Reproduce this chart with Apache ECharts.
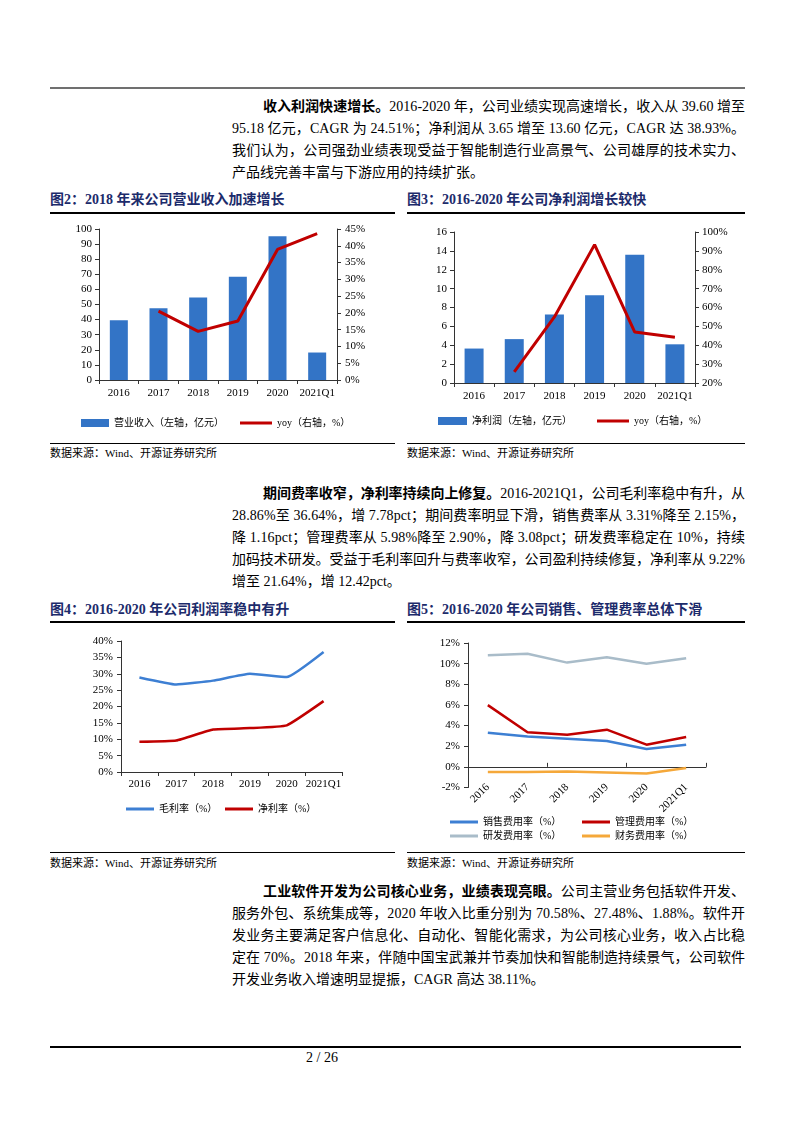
<!DOCTYPE html>
<html><head><meta charset="utf-8">
<script src="https://cdn.jsdelivr.net/npm/echarts@6/dist/echarts.min.js"></script>
<style>
html,body{margin:0;padding:0;background:#fff;}
#page{position:relative;width:793px;height:1122px;overflow:hidden;font-family:"Liberation Serif","Noto Sans CJK SC",serif;color:#000;}
.ln{position:absolute;font-size:14px;line-height:22px;height:22px;white-space:nowrap;}
.ln b{font-weight:bold;}
.ttl{position:absolute;font-size:14px;font-weight:bold;color:#1c2b6b;white-space:nowrap;line-height:18px;}
.src{position:absolute;font-size:11px;white-space:nowrap;line-height:14px;}
.hr{position:absolute;background:#000;}
.chart{position:absolute;width:345px;height:225px;}
</style></head>
<body>
<div id="page">
  <div class="hr" style="left:50px;top:87px;width:695px;height:2px;background:#707070;"></div>

  <div class="ln j" style="left:263px;top:96px;width:482px;"><span><b>收入利润快速增长。</b>2016-2020 年，公司业绩实现高速增长，收入从 39.60 增至</span></div>
  <div class="ln j" style="left:232px;top:118px;width:513px;"><span>95.18 亿元，CAGR 为 24.51%；净利润从 3.65 增至 13.60 亿元，CAGR 达 38.93%。</span></div>
  <div class="ln j" style="left:232px;top:140px;width:513px;"><span>我们认为，公司强劲业绩表现受益于智能制造行业高景气、公司雄厚的技术实力、</span></div>
  <div class="ln" style="left:232px;top:162px;"><span>产品线完善丰富与下游应用的持续扩张。</span></div>

  <div class="ttl" style="left:50px;top:191px;">图2：2018 年来公司营业收入加速增长</div>
  <div class="hr" style="left:50px;top:212px;width:345px;height:1.5px;"></div>
  <div class="ttl" style="left:407px;top:191px;">图3：2016-2020 年公司净利润增长较快</div>
  <div class="hr" style="left:407px;top:212px;width:338px;height:1.5px;"></div>
  <div id="c2" class="chart" style="left:50px;top:215px;"></div>
  <div id="c3" class="chart" style="left:407px;top:215px;"></div>
  <div class="hr" style="left:50px;top:443px;width:345px;height:1px;"></div>
  <div class="hr" style="left:407px;top:443px;width:338px;height:1px;"></div>
  <div class="src" style="left:50px;top:446px;">数据来源：Wind、开源证券研究所</div>
  <div class="src" style="left:407px;top:446px;">数据来源：Wind、开源证券研究所</div>

  <div class="ln j" style="left:263px;top:483px;width:482px;"><span><b>期间费率收窄，净利率持续向上修复。</b>2016-2021Q1，公司毛利率稳中有升，从</span></div>
  <div class="ln j" style="left:232px;top:505px;width:513px;"><span>28.86%至 36.64%，增 7.78pct；期间费率明显下滑，销售费率从 3.31%降至 2.15%，</span></div>
  <div class="ln j" style="left:232px;top:527px;width:513px;"><span>降 1.16pct；管理费率从 5.98%降至 2.90%，降 3.08pct；研发费率稳定在 10%，持续</span></div>
  <div class="ln j" style="left:232px;top:549px;width:513px;"><span>加码技术研发。受益于毛利率回升与费率收窄，公司盈利持续修复，净利率从 9.22%</span></div>
  <div class="ln" style="left:232px;top:571px;"><span>增至 21.64%，增 12.42pct。</span></div>

  <div class="ttl" style="left:50px;top:601px;">图4：2016-2020 年公司利润率稳中有升</div>
  <div class="hr" style="left:50px;top:621px;width:345px;height:1.5px;"></div>
  <div class="ttl" style="left:407px;top:601px;">图5：2016-2020 年公司销售、管理费率总体下滑</div>
  <div class="hr" style="left:407px;top:621px;width:338px;height:1.5px;"></div>
  <div id="c4" class="chart" style="left:50px;top:625px;"></div>
  <div id="c5" class="chart" style="left:407px;top:625px;"></div>
  <div class="hr" style="left:50px;top:852px;width:345px;height:1px;"></div>
  <div class="hr" style="left:407px;top:852px;width:338px;height:1px;"></div>
  <div class="src" style="left:50px;top:856px;">数据来源：Wind、开源证券研究所</div>
  <div class="src" style="left:407px;top:856px;">数据来源：Wind、开源证券研究所</div>

  <div class="ln j" style="left:263px;top:881px;width:482px;"><span><b>工业软件开发为公司核心业务，业绩表现亮眼。</b>公司主营业务包括软件开发、</span></div>
  <div class="ln j" style="left:232px;top:903px;width:513px;"><span>服务外包、系统集成等，2020 年收入比重分别为 70.58%、27.48%、1.88%。软件开</span></div>
  <div class="ln j" style="left:232px;top:925px;width:513px;"><span>发业务主要满足客户信息化、自动化、智能化需求，为公司核心业务，收入占比稳</span></div>
  <div class="ln j" style="left:232px;top:947px;width:513px;"><span>定在 70%。2018 年来，伴随中国宝武兼并节奏加快和智能制造持续景气，公司软件</span></div>
  <div class="ln" style="left:232px;top:969px;"><span>开发业务收入增速明显提振，CAGR 高达 38.11%。</span></div>

  <div class="hr" style="left:50px;top:1046px;width:691px;height:1.5px;"></div>
  <div class="ln" style="left:306px;top:1047px;font-size:14px;">2 / 26</div>
</div>
<script>
// ---------- data ----------
const categories = ['2016', '2017', '2018', '2019', '2020', '2021Q1'];
const revenue = [39.60, 47.5, 54.6, 68.3, 95.18, 18.2];
const revenueYoy = [null, 20.5, 14.5, 17.6, 38.9, 43.6];
const netProfit = [3.65, 4.65, 7.25, 9.3, 13.60, 4.1];
const netProfitYoy = [null, 25.9, 55.0, 93.3, 47.0, 44.2];
const grossMargin = [28.86, 26.7, 27.9, 30.0, 29.0, 36.64];
const netMargin = [9.22, 9.6, 13.0, 13.4, 14.25, 21.64];
const salesRate = [3.31, 2.93, 2.73, 2.5, 1.73, 2.15];
const mgmtRate = [5.98, 3.35, 3.12, 3.6, 2.15, 2.90];
const rdRate = [10.82, 10.95, 10.1, 10.62, 9.98, 10.53];
const finRate = [-0.5, -0.5, -0.45, -0.55, -0.65, -0.1];

// ---------- justify text lines ----------
document.querySelectorAll('.ln.j').forEach(el => {
  const target = parseFloat(el.style.width);
  const span = el.firstElementChild;
  const w = span.getBoundingClientRect().width;
  const n = [...span.textContent].length;
  if (n > 1) span.style.letterSpacing = ((target - w) / (n - 1)) + 'px';
});

const FONT = '"Liberation Serif","Noto Sans CJK SC",serif';
const AX = '#333';
const BLUE_BAR = '#3374c6';
const RED = '#c00000';
const lbl = (extra) => Object.assign({ color: '#000', fontSize: 11, fontFamily: FONT }, extra || {});
const legendText = { color: '#000', fontSize: 10, fontFamily: FONT };
function catAxis(extra) {
  return Object.assign({
    type: 'category', data: categories, boundaryGap: true,
    axisLine: { show: true, lineStyle: { color: AX, width: 1 } },
    axisTick: { show: true, length: 4, lineStyle: { color: AX } },
    axisLabel: lbl({ margin: 8, interval: 0 }),
    splitLine: { show: false }
  }, extra || {});
}
function valAxis(min, max, interval, fmt, extra) {
  return Object.assign({
    type: 'value', min: min, max: max, interval: interval,
    axisLine: { show: true, lineStyle: { color: AX, width: 1 } },
    axisTick: { show: true, length: 4, lineStyle: { color: AX } },
    axisLabel: lbl({ margin: 7, formatter: fmt }),
    splitLine: { show: false }
  }, extra || {});
}
function legendItem(name, left, top, w, h) {
  return { data: [{ name: name, icon: 'rect' }], left: left, top: top, padding: 0,
    itemWidth: w, itemHeight: h, textStyle: legendText, selectedMode: false };
}

// ---------- chart 2 ----------
const c2 = echarts.init(document.getElementById('c2'));
c2.setOption({
  animation: false,
  grid: { left: 49, top: 14, width: 238, height: 151 },
  legend: [
    legendItem('营业收入（左轴，亿元）', 31, 203, 28, 8),
    legendItem('yoy（右轴，%）', 190, 203, 32, 3)
  ],
  xAxis: catAxis(),
  yAxis: [
    valAxis(0, 100, 10, '{value}'),
    valAxis(0, 45, 5, '{value}%', { position: 'right', axisLabel: lbl({ margin: 8, formatter: '{value}%' }) })
  ],
  series: [
    { name: '营业收入（左轴，亿元）', type: 'bar', data: revenue, barWidth: 18, itemStyle: { color: BLUE_BAR } },
    { name: 'yoy（右轴，%）', type: 'line', yAxisIndex: 1, data: revenueYoy, symbol: 'none',
      lineStyle: { color: RED, width: 3 }, itemStyle: { color: RED }, z: 5 }
  ]
});

// ---------- chart 3 ----------
const c3 = echarts.init(document.getElementById('c3'));
c3.setOption({
  animation: false,
  grid: { left: 47, top: 17, width: 241, height: 151 },
  legend: [
    legendItem('净利润（左轴，亿元）', 31, 201, 29, 8),
    legendItem('yoy（右轴，%）', 190, 201, 32, 3)
  ],
  xAxis: catAxis(),
  yAxis: [
    valAxis(0, 16, 2, '{value}'),
    valAxis(20, 100, 10, '{value}%', { position: 'right' })
  ],
  series: [
    { name: '净利润（左轴，亿元）', type: 'bar', data: netProfit, barWidth: 19, itemStyle: { color: BLUE_BAR } },
    { name: 'yoy（右轴，%）', type: 'line', yAxisIndex: 1, data: netProfitYoy, symbol: 'none',
      lineStyle: { color: RED, width: 3 }, itemStyle: { color: RED }, z: 5 }
  ]
});

// ---------- chart 4 ----------
const BLUE_LINE = '#3d7fd3';
const c4 = echarts.init(document.getElementById('c4'));
c4.setOption({
  animation: false,
  grid: { left: 71, top: 16, width: 221, height: 131 },
  legend: [
    legendItem('毛利率（%）', 76, 179, 28, 3),
    legendItem('净利率（%）', 175, 179, 28, 3)
  ],
  xAxis: catAxis({ axisLabel: lbl({ margin: 7, interval: 0 }) }),
  yAxis: valAxis(0, 40, 5, '{value}%', { axisLabel: lbl({ margin: 8, formatter: '{value}%' }) }),
  series: [
    { name: '毛利率（%）', type: 'line', data: grossMargin, symbol: 'none', smooth: 0.12,
      lineStyle: { color: BLUE_LINE, width: 2.5 }, itemStyle: { color: BLUE_LINE } },
    { name: '净利率（%）', type: 'line', data: netMargin, symbol: 'none', smooth: 0.12,
      lineStyle: { color: RED, width: 2.5 }, itemStyle: { color: RED } }
  ]
});

// ---------- chart 5 ----------
const GREY = '#a9bcc9';
const ORANGE = '#f5a83a';
const c5 = echarts.init(document.getElementById('c5'));
c5.setOption({
  animation: false,
  grid: { left: 61, top: 18, width: 238, height: 144.5 },
  legend: [
    legendItem('销售费用率（%）', 43, 192, 28, 3),
    legendItem('管理费用率（%）', 175, 192, 28, 3),
    legendItem('研发费用率（%）', 43, 206, 28, 3),
    legendItem('财务费用率（%）', 175, 206, 28, 3)
  ],
  xAxis: [
    catAxis({ position: 'bottom', axisLine: { show: false, onZero: false }, axisTick: { show: false },
      axisLabel: lbl({ rotate: 45, margin: -2, interval: 0 }) }),
    catAxis({ position: 'top', axisLine: { show: true, onZero: true, lineStyle: { color: AX, width: 1 } },
      axisTick: { show: true, length: 4, inside: false, lineStyle: { color: AX } }, axisLabel: { show: false } })
  ],
  yAxis: valAxis(-2, 12, 2, '{value}%', { axisLabel: lbl({ margin: 8, formatter: '{value}%' }) }),
  series: [
    { name: '销售费用率（%）', type: 'line', data: salesRate, symbol: 'none',
      lineStyle: { color: BLUE_LINE, width: 2.5 }, itemStyle: { color: BLUE_LINE } },
    { name: '管理费用率（%）', type: 'line', data: mgmtRate, symbol: 'none',
      lineStyle: { color: RED, width: 2.5 }, itemStyle: { color: RED } },
    { name: '研发费用率（%）', type: 'line', data: rdRate, symbol: 'none',
      lineStyle: { color: GREY, width: 2.5 }, itemStyle: { color: GREY } },
    { name: '财务费用率（%）', type: 'line', data: finRate, symbol: 'none',
      lineStyle: { color: ORANGE, width: 2.5 }, itemStyle: { color: ORANGE } }
  ]
});
</script>
</body></html>
